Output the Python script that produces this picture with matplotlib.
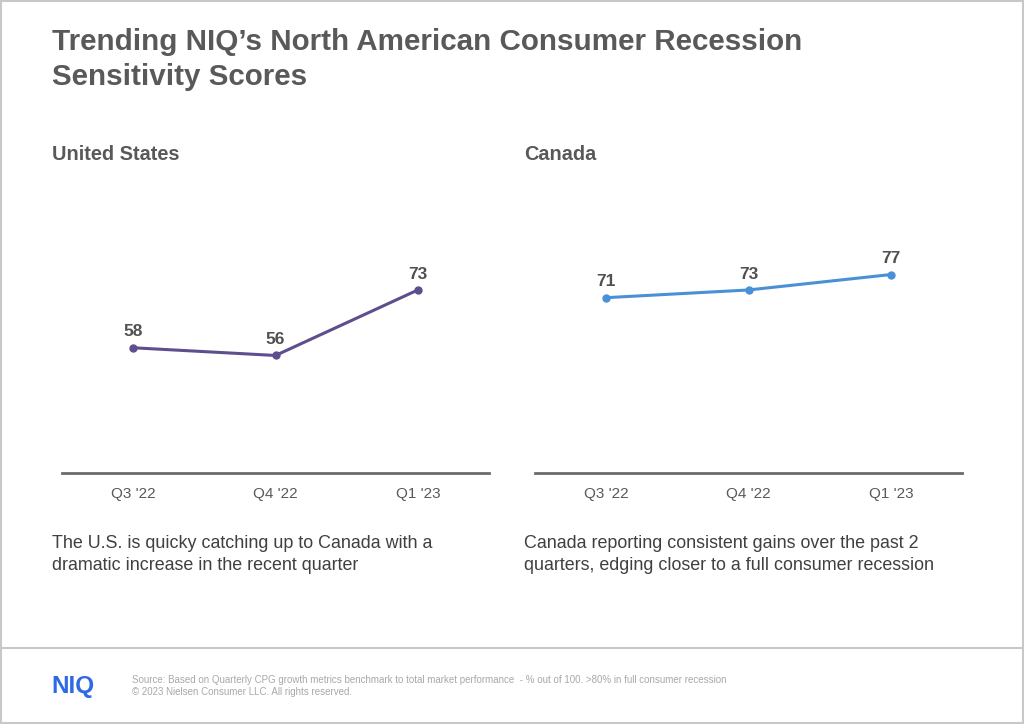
import matplotlib.pyplot as plt
from matplotlib.lines import Line2D
from matplotlib.patches import Rectangle

plt.rcParams['font.family'] = ['Liberation Sans', 'DejaVu Sans']

# Data
quarters = ["Q3 '22", "Q4 '22", "Q1 '23"]
us_scores = [58, 56, 73]
canada_scores = [71, 73, 77]

TEXT_DARK = '#505050'
TEXT_GRAY = '#595959'
US_COLOR = '#5e4e8e'
CA_COLOR = '#4a90d6'

fig = plt.figure(figsize=(10.24, 7.24), dpi=100)
W, H = 1024, 724


def fx(px):
    return px / W


def fy(py):
    return 1 - py / H


def draw_panel(left_px, values, color):
    ax = fig.add_axes([fx(left_px), fy(473), fx(427), (473 - 184) / H])
    x = range(len(values))
    ax.plot(x, values, color=color, lw=2.2, marker='o', ms=5,
            solid_capstyle='round')
    for xi, v in zip(x, values):
        ax.annotate(str(v), (xi, v), xytext=(0, 6), textcoords='offset points',
                    ha='center', va='bottom', fontsize=12.5, fontweight='bold',
                    color=TEXT_DARK)
    ax.set_xlim(-0.5, 2.5)
    ax.set_ylim(25.5, 100.5)
    ax.set_xticks(list(x))
    ax.set_xticklabels(quarters, fontsize=11, color=TEXT_GRAY)
    ax.tick_params(axis='x', length=0, pad=10)
    ax.set_yticks([])
    for s in ['top', 'right', 'left']:
        ax.spines[s].set_visible(False)
    ax.spines['bottom'].set_color('#6b6b6b')
    ax.spines['bottom'].set_linewidth(2)
    ax.patch.set_alpha(0)
    return ax


draw_panel(62, us_scores, US_COLOR)
draw_panel(535, canada_scores, CA_COLOR)

# Title
fig.text(fx(52), fy(42), "Trending NIQ\u2019s North American Consumer Recession",
         fontsize=21.3, fontweight='bold', color=TEXT_GRAY, va='center')
fig.text(fx(52), fy(77), "Sensitivity Scores",
         fontsize=21.3, fontweight='bold', color=TEXT_GRAY, va='center')

# Panel headings
fig.text(fx(52), fy(154), "United States", fontsize=14.3, fontweight='bold',
         color=TEXT_GRAY, va='center')
fig.text(fx(524), fy(154), "Canada", fontsize=14.3, fontweight='bold',
         color=TEXT_GRAY, va='center')

# Captions
fig.text(fx(52), fy(544), "The U.S. is quicky catching up to Canada with a",
         fontsize=12.9, color='#404040', va='center')
fig.text(fx(52), fy(565), "dramatic increase in the recent quarter",
         fontsize=12.9, color='#404040', va='center')
fig.text(fx(524), fy(544), "Canada reporting consistent gains over the past 2",
         fontsize=12.9, color='#404040', va='center')
fig.text(fx(524), fy(565), "quarters, edging closer to a full consumer recession",
         fontsize=12.9, color='#404040', va='center')

# Footer separator and page border
fig.add_artist(Line2D([0, 1], [fy(648), fy(648)], color='#c8c8c8', lw=1.5))
fig.add_artist(Rectangle((0.001, 0.001), 0.998, 0.998, fill=False,
                         edgecolor='#c8c8c8', lw=1.5))

# Footer
fig.text(fx(51), fy(686), "NIQ", fontsize=17.5, fontweight='bold',
         color='#2f6ae6', va='center')
fig.text(fx(132), fy(680),
         "Source: Based on Quarterly CPG growth metrics benchmark to total market "
         "performance  - % out of 100. >80% in full consumer recession",
         fontsize=7, color='#a8a8a8', va='center')
fig.text(fx(132), fy(692), "\u00a9 2023 Nielsen Consumer LLC. All rights reserved.",
         fontsize=7, color='#a8a8a8', va='center')

fig.savefig('out.png', dpi=100, facecolor='white')
